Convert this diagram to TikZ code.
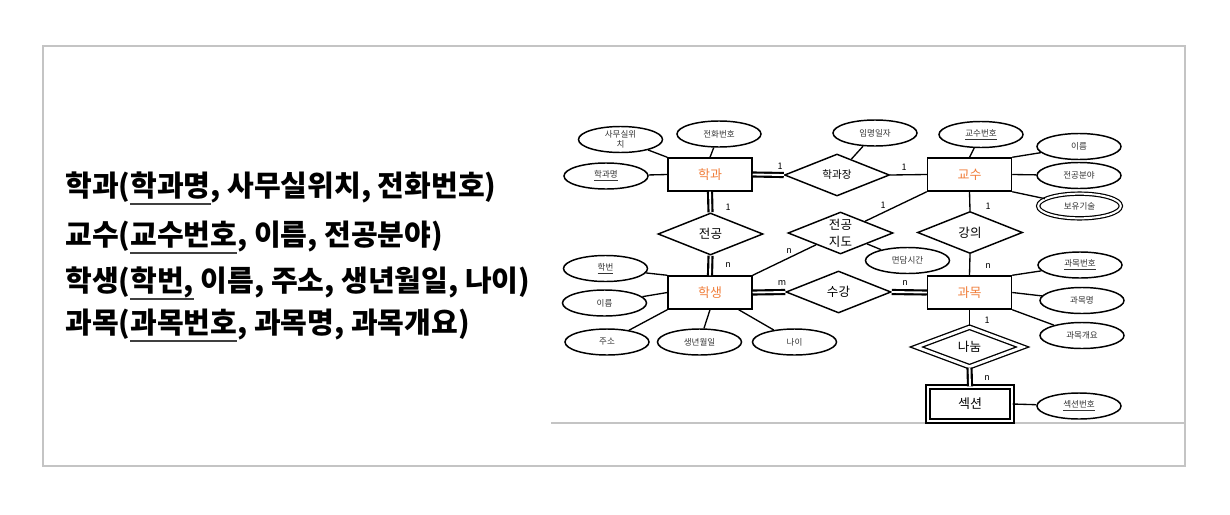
\documentclass[tikz,border=0pt]{standalone}
\usepackage{fontspec}
\setmainfont{Noto Sans CJK KR}
\usetikzlibrary{shapes.geometric}
\definecolor{entorange}{HTML}{F07F3C}
\definecolor{framegray}{HTML}{C4C4C4}
\definecolor{attrtext}{HTML}{333333}
\newcommand\kul[1]{\setbox0=\hbox{#1}\rlap{\raisebox{-6.5pt}{\color{black!75}\rule{\wd0}{1.5pt}}}\box0\relax}
\begin{document}
\begin{tikzpicture}[x=0.75pt,y=-0.75pt,
  ent/.style={draw, rectangle, line width=1.1pt, minimum width=63pt, minimum height=24.75pt, inner sep=0pt, text=entorange, font=\fontsize{9.75}{11}\selectfont},
  weakent/.style={ent, double, double distance=2.2pt, line width=1pt, minimum width=63pt, minimum height=25.5pt, text=black},
  rel/.style={draw, diamond, aspect=2.5, line width=1.1pt, minimum width=78.75pt, minimum height=31.5pt, inner sep=0pt, font=\fontsize{9.4}{12.75}\selectfont, align=center},
  weakrel/.style={rel, double, double distance=2.2pt, line width=1pt, minimum width=80pt, minimum height=30pt},
  attr/.style={draw, ellipse, line width=1.1pt, minimum width=63pt, minimum height=19.5pt, inner sep=0pt, text=attrtext, font=\fontsize{6.4}{7.5}\selectfont, align=center},
  mvattr/.style={attr, double, double distance=1.5pt, line width=0.9pt, minimum width=62pt, minimum height=18.5pt},
  conn/.style={line width=1pt},
  dconn/.style={double, double distance=1.4pt, line width=1.6pt},
  card/.style={font=\fontsize{6.75}{7}\selectfont, inner sep=0pt},
  bigtxt/.style={font=\fontsize{21.8}{24}\selectfont\bfseries, anchor=base west, inner sep=0pt}
]
\useasboundingbox (0,0) rectangle (1230,514);
% frame
\draw[framegray, line width=1.5pt] (43,46) rectangle (1185,466);
\draw[framegray, line width=1.5pt] (551,423) -- (1185,423);

% left text
\node[bigtxt] (t1) at (65,196) {학과(\kul{학과명}, 사무실위치, 전화번호)};
\node[bigtxt] (t2) at (65,245) {교수(\kul{교수번호}, 이름, 전공분야)};
\node[bigtxt] (t3) at (65,291) {학생(\kul{학번,} 이름, 주소, 생년월일, 나이)};
\node[bigtxt] (t4) at (65,333) {과목(\kul{과목번호}, 과목명, 과목개요)};

% entities
\node[ent] (hg) at (710,174.5) {학과};
\node[ent] (gs) at (969.5,174.5) {교수};
\node[ent] (hs) at (710,292.5) {학생};
\node[ent] (gm) at (969.5,292.5) {과목};
\node[weakent] (sec) at (970,404) {섹션};

% relationships
\node[rel, font=\fontsize{7.9}{9}\selectfont] (hgj) at (837,175) {학과장};
\node[rel] (jg) at (710.5,234) {전공};
\node[rel] (jd) at (840.5,233) {전공\\지도};
\node[rel] (gy) at (970,232.5) {강의};
\node[rel] (sg) at (838.5,292) {수강};
\node[weakrel] (nn) at (969.5,347) {나눔};

% attributes
\node[attr] (samu) at (620.5,139.5) {사무실위\\치};
\node[attr] (jh) at (719,134) {전화번호};
\node[attr] (hgm) at (606,176) {\underline{학과명}};
\node[attr] (im) at (875,133) {임명일자};
\node[attr] (gsb) at (981,134.5) {\underline{교수번호}};
\node[attr] (ir1) at (1079,146.5) {이름};
\node[attr] (jgb) at (1079,175.5) {전공분야};
\node[mvattr] (by) at (1079.5,206) {보유기술};
\node[attr] (md) at (907.5,260.5) {면담시간};
\node[attr] (hb) at (605.5,268.5) {\underline{학번}};
\node[attr] (ir2) at (604.5,303) {이름};
\node[attr] (js) at (607,342) {주소};
\node[attr] (sw) at (699.5,342) {생년월일};
\node[attr] (na) at (794.5,342) {나이};
\node[attr] (gmb) at (1080,265) {\underline{과목번호}};
\node[attr] (gmm) at (1082,300.5) {과목명};
\node[attr] (gmg) at (1082,335.5) {과목개요};
\node[attr] (sb) at (1079,406) {\underline{섹션번호}};

% attribute connectors
\draw[conn] (hgm) -- (hg.west);
\draw[conn] (samu) -- (hg.north west);
\draw[conn] (jh) -- (hg.north);
\draw[conn] (im) -- (hgj);
\draw[conn] (gsb) -- (gs.north);
\draw[conn] (ir1) -- (gs.north east);
\draw[conn] (jgb) -- (gs.east);
\draw[conn] (by) -- (gs.south east);
\draw[conn] (md) -- (jd);
\draw[conn] (hb) -- (hs.north west);
\draw[conn] (ir2) -- (hs.west);
\draw[conn] (js) -- (hs.south west);
\draw[conn] (sw) -- (hs.south);
\draw[conn] (na) -- ([xshift=-10.5pt]hs.south east);
\draw[conn] (gmb) -- (gm.north east);
\draw[conn] (gmm) -- (gm.east);
\draw[conn] (gmg) -- (gm.south east);
\draw[conn] (sb) -- (sec.east);

% relationship connectors
\draw[dconn] (hg.east) -- (hgj.west);
\draw[conn] (hgj.east) -- (gs.west);
\draw[dconn] (hg.south) -- (jg.north);
\draw[dconn] (jg.south) -- (hs.north);
\draw[conn] (gs.south west) -- (jd);
\draw[conn] (jd) -- (hs.north east);
\draw[conn] (gs.south) -- (gy.north);
\draw[conn] (gy.south) -- (gm.north);
\draw[dconn] (hs.east) -- (sg.west);
\draw[dconn] (sg.east) -- (gm.west);
\draw[conn] (gm.south) -- (nn.north);
\draw[dconn] (nn.south) -- (sec.north);

% cardinalities
\node[card] (c1) at (780,166) {1};
\node[card] (c2) at (904,167) {1};
\node[card] (c3) at (728,207) {1};
\node[card] (c4) at (728,265) {n};
\node[card] (c5) at (883,205) {1};
\node[card] (c6) at (789,251) {n};
\node[card] (c7) at (988,206) {1};
\node[card] (c8) at (988,266) {n};
\node[card] (c9) at (782,283) {m};
\node[card] (c10) at (905,283) {n};
\node[card] (c11) at (987,320) {1};
\node[card] (c12) at (987,378) {n};
\end{tikzpicture}
\end{document}
